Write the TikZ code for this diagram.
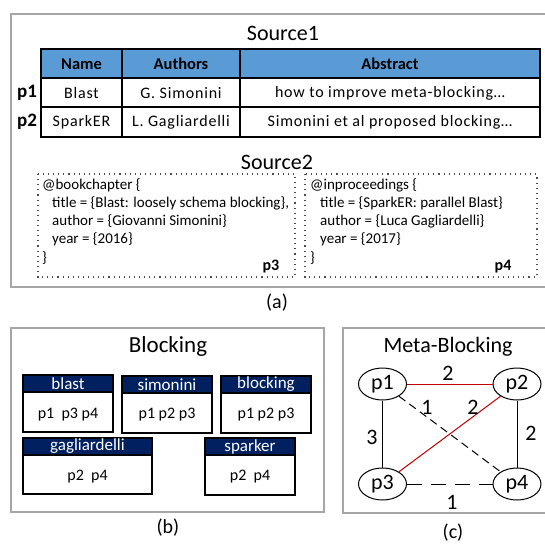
\documentclass[tikz,border=0pt]{standalone}
\usepackage{fontspec}
\setmainfont{Carlito}
\usetikzlibrary{shapes.geometric}
\definecolor{framegray}{HTML}{A6A6A6}
\definecolor{hdrblue}{HTML}{5B9BD5}
\definecolor{navy}{HTML}{002060}
\definecolor{edgered}{HTML}{C00000}
\tikzset{
  frame/.style={draw=framegray, line width=1.4pt},
  tbl/.style={draw=black, line width=1.6pt},
  dotbox/.style={draw=black!70, line width=1.1pt, dash pattern=on 1.1pt off 4pt},
  title/.style={font=\fontsize{22}{24}\selectfont, inner sep=0pt},
  hdr/.style={font=\fontsize{16.5}{18}\selectfont\bfseries, inner sep=0pt},
  cell/.style={font=\fontsize{16}{18}\selectfont\addfontfeature{LetterSpace=5}, inner sep=0pt},
  plab/.style={font=\fontsize{19}{21}\selectfont\bfseries, inner sep=0pt},
  bib/.style={font=\fontsize{15}{17}\selectfont, inner sep=0pt, anchor=west},
  blk/.style={draw=black, line width=1.3pt},
  blkhdr/.style={fill=navy, draw=black, line width=1.3pt},
  blkt/.style={font=\fontsize{17}{19}\selectfont, text=white, inner sep=0pt},
  blkb/.style={font=\fontsize{16}{18}\selectfont, inner sep=0pt},
  gnode/.style={ellipse, draw=black, line width=1pt, minimum width=48pt, minimum height=32pt, inner sep=0pt, font=\fontsize{22}{24}\selectfont},
  elab/.style={font=\fontsize{22}{24}\selectfont, inner sep=0pt},
  sub/.style={font=\fontsize{20}{22}\selectfont, inner sep=0pt},
}
\begin{document}
\begin{tikzpicture}[x=1pt,y=-1pt]
\useasboundingbox (0,0) rectangle (545,546);
% ---------- (a) ----------
\draw[frame] (550,14) -- (11,14) -- (11,287) -- (550,287);
\node[title] (s1) at (283,33) {Source1};
\fill[hdrblue] (41,49) rectangle (540,78);
\draw[tbl] (41,49) rectangle (540,137);
\draw[tbl] (41,78) -- (540,78);
\draw[tbl] (41,107) -- (540,107);
\draw[tbl] (122,49) -- (122,137);
\draw[tbl] (240,49) -- (240,137);
\node[hdr] (hname) at (81.5,64) {Name};
\node[hdr] (hauth) at (181,64) {Authors};
\node[hdr] (habs) at (390,64) {Abstract};
\node[cell] (c11) at (81.5,93) {Blast};
\node[cell] (c12) at (181,93) {G. Simonini};
\node[cell] (c13) at (390,93) {how to improve meta-blocking…};
\node[cell] (c21) at (81.5,122) {SparkER};
\node[cell] (c22) at (181,122) {L. Gagliardelli};
\node[cell] (c23) at (390,122) {Simonini et al proposed blocking…};
\node[plab] (lp1) at (27,93) {p1};
\node[plab] (lp2) at (27,122) {p2};
\node[title] (s2) at (277,162) {Source2};
\draw[dotbox] (38,174) rectangle (295,277);
\draw[dotbox] (305,174) rectangle (537,277);
\node[bib] (b1) at (42,185) {@bookchapter \{};
\node[bib] (b2) at (52,203) {title = \{Blast: loosely schema blocking\},};
\node[bib] (b3) at (52,221) {author = \{Giovanni Simonini\}};
\node[bib] (b4) at (52,239) {year = \{2016\}};
\node[bib] (b5) at (42,258) {\}};
\node[plab, font=\fontsize{16}{18}\selectfont\bfseries] (p3l) at (271,267) {p3};
\node[bib] (d1) at (310,185) {@inproceedings \{};
\node[bib] (d2) at (320,203) {title = \{SparkER: parallel Blast\}};
\node[bib] (d3) at (320,221) {author = \{Luca Gagliardelli\}};
\node[bib] (d4) at (320,239) {year = \{2017\}};
\node[bib] (d5) at (310,258) {\}};
\node[plab, font=\fontsize{16}{18}\selectfont\bfseries] (p4l) at (503,267) {p4};
\node[sub] (la) at (277,303) {(a)};
% ---------- (b) ----------
\draw[frame] (11,328) rectangle (324,512);
\node[title, font=\fontsize{23}{25}\selectfont] (bt) at (168,346) {Blocking};
% blast
\draw[blkhdr] (23,375) rectangle (113,392);
\draw[blk] (23,392) rectangle (113,432);
\node[blkt] (k1) at (68,383.5) {blast};
\node[blkb] (v1) at (68,415) {p1\ \ p3 p4};
% simonini
\draw[blkhdr] (122,376) rectangle (212,393);
\draw[blk] (122,393) rectangle (212,433);
\node[blkt] (k2) at (167,384.5) {simonini};
\node[blkb] (v2) at (167,415) {p1 p2 p3};
% blocking
\draw[blkhdr] (221,376) rectangle (311,393);
\draw[blk] (221,393) rectangle (311,433);
\node[blkt] (k3) at (266,384.5) {blocking};
\node[blkb] (v3) at (266,415) {p1 p2 p3};
% gagliardelli
\draw[blkhdr] (23,438) rectangle (152,455);
\draw[blk] (23,455) rectangle (152,494);
\node[blkt] (k4) at (87.5,446.5) {gagliardelli};
\node[blkb] (v4) at (87.5,477) {p2\ \ p4};
% sparker
\draw[blkhdr] (205,438) rectangle (295,455);
\draw[blk] (205,455) rectangle (295,495);
\node[blkt] (k5) at (250,446.5) {sparker};
\node[blkb] (v5) at (250,477) {p2\ \ p4};
\node[sub] (lb) at (168,528) {(b)};
% ---------- (c) ----------
\draw[frame] (550,328) -- (343,328) -- (343,513) -- (550,513);
\node[title] (ct) at (448,347) {Meta-Blocking};
\node[gnode] (n1) at (382.5,384) {p1};
\node[gnode] (n2) at (517,384) {p2};
\node[gnode] (n3) at (382.5,484) {p3};
\node[gnode] (n4) at (517,484) {p4};
\draw[edgered, line width=1pt] (n1) -- (n2);
\draw[edgered, line width=1pt] (n3) -- (n2);
\draw[black, line width=1pt] (n1) -- (n3);
\draw[black, line width=1pt] (n2) -- (n4);
\draw[black, line width=1pt, dash pattern=on 8pt off 5pt] (n1) -- (n4);
\draw[black, line width=1pt, dash pattern=on 15pt off 9pt] (n3) -- (n4);
\node[elab] (w12) at (448,373) {2};
\node[elab] (w14) at (427,407) {1};
\node[elab] (w23) at (473,407) {2};
\node[elab] (w13) at (372,437) {3};
\node[elab] (w24) at (531,433) {2};
\node[elab] (w34) at (452,502) {1};
\node[sub] (lc) at (453,533) {(c)};
\end{tikzpicture}
\end{document}
